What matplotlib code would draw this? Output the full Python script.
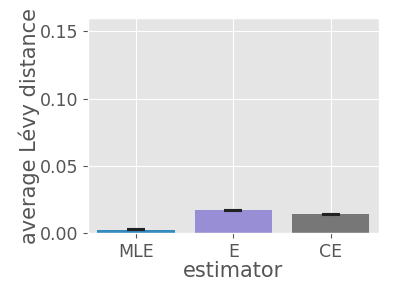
import numpy as np
import matplotlib
matplotlib.use("Agg")
import matplotlib.pyplot as plt

plt.style.use("ggplot")

estimators = ["MLE", "E", "CE"]
mean_dist = [0.0026, 0.0171, 0.0140]
err_dist = [0.0003, 0.0003, 0.0003]
colors = ["#348ABD", "#988ED5", "#777777"]

fig, ax = plt.subplots(figsize=(3.99, 2.99), dpi=100)
x = np.arange(len(estimators))
ax.bar(x, mean_dist, width=0.8, color=colors)
ax.errorbar(x, mean_dist, yerr=err_dist, fmt="none", ecolor="#222222",
            capsize=6.5, elinewidth=1, capthick=1.5)

ax.set_xticks(x)
ax.set_xticklabels(estimators, fontsize=12.5)
ax.set_xlim(-0.5, 2.5)
ax.set_ylim(0, 0.16)
ax.set_yticks([0.0, 0.05, 0.10, 0.15])
ax.set_yticklabels(["0.00", "0.05", "0.10", "0.15"], fontsize=12.5)
ax.set_xlabel("estimator", fontsize=15, color="#555555", labelpad=0)
ax.set_ylabel("average Lévy distance", fontsize=15, color="#555555", labelpad=0)

fig.subplots_adjust(left=0.22, right=0.95, bottom=0.22, top=0.94)
fig.savefig("out.png", dpi=100)
